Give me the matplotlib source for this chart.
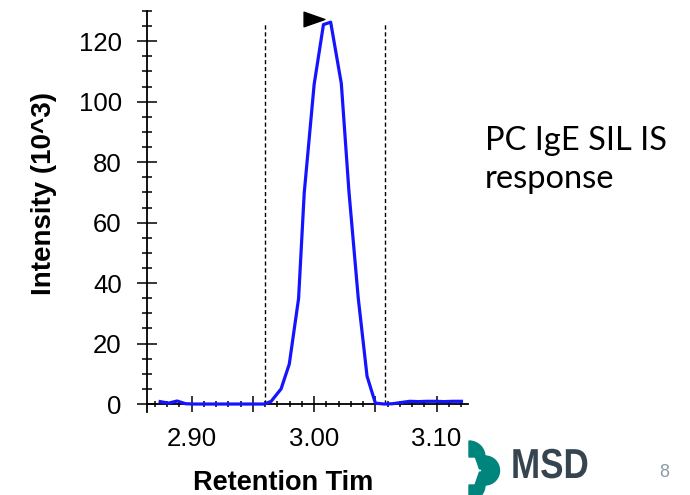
import matplotlib
matplotlib.use('Agg')
import matplotlib.pyplot as plt
from matplotlib.ticker import MultipleLocator, FuncFormatter
from matplotlib.patches import Wedge, Polygon, PathPatch
from matplotlib.path import Path
from matplotlib.textpath import TextPath
from matplotlib.font_manager import FontProperties
from matplotlib.transforms import Affine2D

plt.rcParams['font.family'] = ['Liberation Sans', 'DejaVu Sans']

# chromatogram trace (retention time, intensity x10^3)
rt = [2.8743, 2.8812, 2.8881, 2.8950, 2.9019, 2.9300, 2.9595, 2.9649, 2.9730,
      2.9797, 2.9873, 2.9919, 3.0000, 3.0076, 3.0135, 3.0222, 3.0284, 3.0360,
      3.0432, 3.0500, 3.0570, 3.0640, 3.0710, 3.0780, 3.0850, 3.0920, 3.0990,
      3.1060, 3.1130, 3.1203]
intensity = [0.8, 0.3, 1.0, 0.1, 0.0, 0.0, 0.0, 0.9, 5.0,
             13.2, 34.9, 69.8, 105.7, 125.5, 126.3, 106.0, 70.4, 35.1,
             9.2, 0.3, 0.0, 0.1, 0.5, 0.9, 0.8, 0.9, 0.9,
             0.8, 0.9, 0.9]

# integration boundaries and apex marker
bounds = [2.9595, 3.0576]
bound_top = 125.8
apex_rt = 3.0002
apex_y = 127.2

fig = plt.figure(figsize=(6.9, 4.95), dpi=100)
ax = fig.add_axes([0.2130, 0.1679, 0.4652, 0.8099])

ax.plot(rt, intensity, color='#1414ff', lw=2.3, zorder=3)
ax.vlines(bounds, 0, bound_top, colors='black', linestyles=(0, (3, 2)), lw=1.0)

tri = Path([(-1, -0.7), (1, 0), (-1, 0.7), (-1, -0.7)],
           [Path.MOVETO, Path.LINETO, Path.LINETO, Path.CLOSEPOLY])
ax.plot([apex_rt], [apex_y], marker=tri, markersize=15, color='black',
        ls='none', clip_on=False, zorder=4)

ax.set_xlim(2.8635, 3.1256)
ax.set_ylim(-2.6, 130)
for s in ['top', 'right']:
    ax.spines[s].set_visible(False)
ax.spines['bottom'].set_position(('data', 0))
ax.spines['bottom'].set_linewidth(1.3)
ax.spines['left'].set_linewidth(1.3)

ax.xaxis.set_major_locator(MultipleLocator(0.05))
ax.xaxis.set_minor_locator(MultipleLocator(0.01))
ax.xaxis.set_major_formatter(FuncFormatter(
    lambda v, p: f'{v:.2f}' if abs(round(v * 100) % 10) < 1e-6 else ''))
ax.yaxis.set_major_locator(MultipleLocator(20))
ax.yaxis.set_minor_locator(MultipleLocator(5))
ax.yaxis.set_major_formatter(FuncFormatter(lambda v, p: f'{v:.0f}' if v >= 0 else ''))

ax.tick_params(axis='x', which='major', direction='inout', length=11.5, width=1.1,
               labelsize=18.5, pad=11)
ax.tick_params(axis='x', which='minor', direction='inout', length=5, width=1.1)
ax.tick_params(axis='y', which='major', direction='inout', length=14.4, width=1.1,
               labelsize=18.5, pad=11)
ax.tick_params(axis='y', which='minor', direction='inout', length=6.5, width=1.1)

ax.set_ylabel('Intensity (10^3)', fontsize=20, fontweight='bold')
ax.yaxis.set_label_coords(-0.28, 0.5448)
ax.set_xlabel('Retention Tim', fontsize=19.5, fontweight='bold', va='top')
ax.xaxis.set_label_coords(0.425, -0.146)

fig.text(485 / 690, 1 - 188 / 495, 'PC IgE SIL IS\nresponse', fontsize=23.5,
         family=['Lato', 'DejaVu Sans'], ha='left', va='baseline', linespacing=1.32)

# footer: logo and page number
ov = fig.add_axes([0, 0, 1, 1], zorder=-1)
ov.set_xlim(0, 690)
ov.set_ylim(495, 0)
ov.axis('off')
teal = '#00857c'
ov.add_patch(Wedge((469, 457), 16, 270, 360, color=teal))
ov.add_patch(Wedge((469, 485), 16, 0, 90, color=teal))
ov.add_patch(Wedge((485, 470.5), 14.5, -90, 90, color=teal))
ov.add_patch(Polygon([(475, 456), (485, 456), (485, 485), (475, 485), (480, 470.5)],
                     closed=True, color=teal))
ov.add_patch(Polygon([(469, 468.5), (481, 470.5), (469, 472.5)], closed=True, color='white'))

msd = TextPath((0, 0), 'MSD', size=1,
               prop=FontProperties(family='Liberation Sans', weight='bold'))
ov.add_patch(PathPatch(msd, color='#36444f', lw=0,
                       transform=Affine2D().scale(35.0, -41.9).translate(511, 478) + ov.transData))
fig.text(664 / 690, 1 - 477 / 495, '8', fontsize=13, color='#8c9ba5',
         ha='center', va='baseline')

fig.savefig('out.png', dpi=100)
